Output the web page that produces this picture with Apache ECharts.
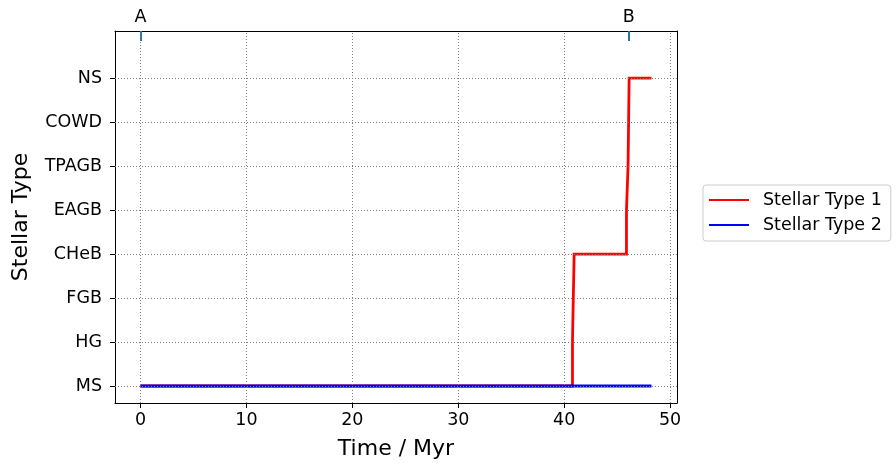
<!DOCTYPE html>
<html><head><meta charset="utf-8">
<script src="https://cdn.jsdelivr.net/npm/echarts@6/dist/echarts.min.js"></script>
<style>html,body{margin:0;padding:0;background:#fff}#c{width:896px;height:470px}</style>
</head><body><div id="c"></div>
<script>
const typeNames = ['MS','HG','FGB','CHeB','EAGB','TPAGB','COWD','NS'];
const xTicks = [0,10,20,30,40,50];
const star1Time = [0, 40.78, 40.94, 45.88, 46.03, 46.13, 48.24];
const star1Type = [0, 1, 3, 4, 5, 7, 7];
const star2Time = [0, 48.24];
const star2Type = [0, 0];
const markerTimes = [0, 46.1];
const markerLabels = ['A','B'];

const XMIN = -2.41, XMAX = 50.65, YMIN = -0.386, YMAX = 8.07;
const font = 'DejaVu Sans';
const typeIdx = typeNames.map((_, i) => i);

// build post-step polyline (value holds until next change)
function stepPoints(ts, ys) {
  const pts = [];
  for (let i = 0; i < ts.length; i++) {
    if (i > 0) pts.push([ts[i], ys[i-1]]);
    pts.push([ts[i], ys[i]]);
  }
  return pts;
}

const chart = echarts.init(document.getElementById('c'), null, {renderer:'canvas'});
const gridStyle = {color:'#808080', width:1, type:[1,2]};
chart.setOption({
  animation:false,
  grid:{left:115, right:219, top:31, bottom:67},
  xAxis:[{
    type:'value', min:XMIN, max:XMAX, position:'bottom',
    name:'Time / Myr', nameLocation:'middle', nameGap:35,
    nameTextStyle:{fontFamily:font, fontSize:22, color:'#000'},
    axisLine:{show:true, onZero:false, lineStyle:{color:'#000', width:1}},
    axisTick:{show:true, customValues:xTicks, length:5, lineStyle:{color:'#000'}},
    axisLabel:{show:true, customValues:xTicks, fontFamily:font, fontSize:17.5, color:'#000', margin:8},
    splitLine:{show:false}
  },{
    type:'value', min:XMIN, max:XMAX, position:'top',
    axisLine:{show:true, onZero:false, lineStyle:{color:'#000', width:1}},
    axisTick:{show:true, inside:true, customValues:markerTimes, length:10, lineStyle:{color:'#1f77b4', width:2}},
    axisLabel:{show:true, customValues:markerTimes, fontFamily:font, fontSize:17.5, color:'#000', margin:5,
      formatter:v => markerLabels[markerTimes.indexOf(v)] || ''},
    splitLine:{show:false}
  }],
  yAxis:[{
    type:'value', min:YMIN, max:YMAX, position:'left',
    name:'Stellar Type', nameLocation:'middle', nameGap:83, nameRotate:90,
    nameTextStyle:{fontFamily:font, fontSize:22, color:'#000'},
    axisLine:{show:true, onZero:false, lineStyle:{color:'#000', width:1}},
    axisTick:{show:true, customValues:typeIdx, length:5, lineStyle:{color:'#000'}},
    axisLabel:{show:true, customValues:typeIdx, fontFamily:font, fontSize:17.5, color:'#000', margin:13,
      formatter:v => typeNames[Math.round(v)]},
    splitLine:{show:false}
  },{
    type:'value', min:YMIN, max:YMAX, position:'right',
    axisLine:{show:true, onZero:false, lineStyle:{color:'#000', width:1}},
    axisTick:{show:false}, axisLabel:{show:false}, splitLine:{show:false}
  }],
  legend:{
    orient:'vertical', left:703, top:185,
    data:['Stellar Type 1','Stellar Type 2'],
    itemWidth:40, itemHeight:2, itemGap:7,
    padding:[6,9,7,6],
    borderColor:'#cccccc', borderWidth:1, borderRadius:3, backgroundColor:'#fff',
    textStyle:{fontFamily:font, fontSize:17.5, color:'#000', padding:[0,0,0,9]},
    icon:'rect'
  },
  series:[{
    name:'grid', type:'line', data:[], silent:true,
    markLine:{symbol:'none', silent:true, label:{show:false}, lineStyle:gridStyle, animation:false,
      data: xTicks.map(v => ({xAxis:v})).concat(typeIdx.map(v => ({yAxis:v})))}
  },{
    name:'Stellar Type 1', type:'line', showSymbol:false, symbol:'none',
    data: stepPoints(star1Time, star1Type),
    lineStyle:{color:'#ff0000', width:2.8, join:'miter', cap:'butt'}, itemStyle:{color:'#ff0000'}, z:3
  },{
    name:'Stellar Type 2', type:'line', showSymbol:false, symbol:'none',
    data: stepPoints(star2Time, star2Type),
    lineStyle:{color:'#0000ff', width:2.8}, itemStyle:{color:'#0000ff'}, z:4
  }]
});
</script></body></html>
